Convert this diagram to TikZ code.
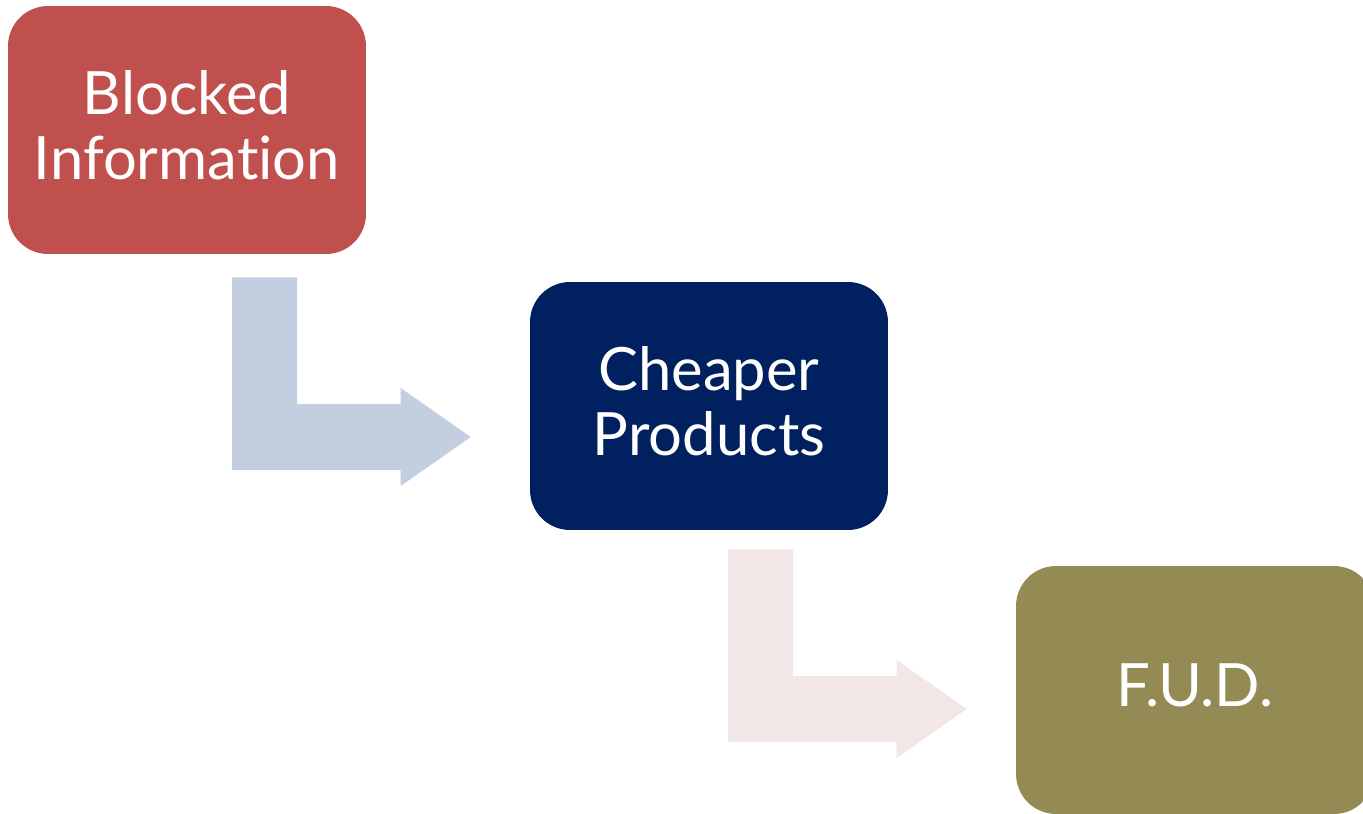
\documentclass[tikz,border=0pt]{standalone}
\usepackage{fontspec}
\setmainfont{Lato}[Ligatures=NoCommon]
\usetikzlibrary{calc}

\definecolor{boxred}{HTML}{C0504D}
\definecolor{boxnavy}{HTML}{002060}
\definecolor{boxolive}{HTML}{948A54}
\definecolor{arrowblue}{HTML}{C3CEE1}
\definecolor{arrowpink}{HTML}{F2E7E6}

% bent arrow: start of the stem, tip, colour
\newcommand{\bentarrow}[3]{%
	\fill[#3] (#1) -- ++(65,0) |- ($(#2)+(-70,-33)$) -- ++(0,-16) -- (#2)
		-- ++(-70,49) -- ++(0,-16) -| (#1) -- cycle;}

\begin{document}
\begin{tikzpicture}[x=0.02cm,y=-0.02cm,
	stepbox/.style={rounded corners=0.8cm, minimum width=7.16cm, minimum height=4.96cm,
		inner sep=0pt, text=white, align=center, text depth=0.2cm,
		font=\fontsize{34}{37}\selectfont}]

	\clip (0,0) rectangle (1363,814);
	\fill[white] (0,0) rectangle (1363,814);

	\node (blocked) [stepbox, fill=boxred] at (187,130) {Blocked\\Information};
	\node (cheaper) [stepbox, fill=boxnavy] at (709,406) {Cheaper\\Products};
	\node (fud) [stepbox, fill=boxolive] at (1195,690) {F.U.D.};

	\coordinate (s1) at ($(blocked.south)+(45,23)$);
	\coordinate (t1) at ($(cheaper.west)+(-59,31)$);
	\coordinate (s2) at ($(cheaper.south)+(19,19)$);
	\coordinate (t2) at ($(fud.west)+(-49,19)$);

	\bentarrow{s1}{t1}{arrowblue}
	\bentarrow{s2}{t2}{arrowpink}

\end{tikzpicture}
\end{document}
